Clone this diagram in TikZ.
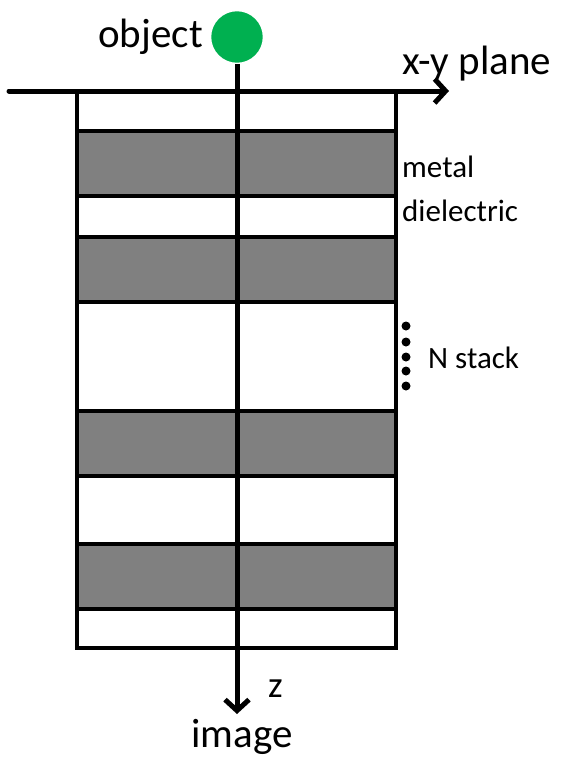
\documentclass[tikz,border=0pt]{standalone}
\usepackage{fontspec}
\setmainfont{Carlito}
\usetikzlibrary{arrows.meta}
\definecolor{objgreen}{HTML}{00B050}
\definecolor{metalgray}{HTML}{808080}
\tikzset{
  border/.style={line width=4.6pt, line join=miter},
  axisline/.style={line width=5pt, line cap=round, -{Straight Barb[length=11pt,width=24pt,line width=5pt]}},
  bigtxt/.style={inner sep=0pt, font=\fontsize{41}{41}\selectfont},
  smalltxt/.style={inner sep=0pt, font=\fontsize{31}{31}\selectfont},
  metal/.style={fill=metalgray},
  stackdot/.style={circle, fill=black, inner sep=0pt, minimum size=9pt}
}
\begin{document}
\begin{tikzpicture}[x=1pt,y=-1pt]
\useasboundingbox (0,0) rectangle (561,758);
% metal layers
\foreach \a/\b in {131/196,237/302,411/476,544/609}
  \fill[metal] (77,\a) rectangle (396,\b);
% stack outline
\draw[border] (77,91) -- (77,648) -- (396,648) -- (396,91);
\foreach \y in {131,196,237,302,411,476,544,609}
  \draw[border] (77,\y) -- (396,\y);
% x-y plane axis
\coordinate (xs) at (9,91);
\coordinate (xe) at (449,91);
\draw[axisline] (xs) -- (xe);
% object
\node[circle, fill=objgreen, draw=white, line width=1.5pt, minimum size=53pt, inner sep=0pt] (obj) at (237,37) {};
\coordinate (zend) at (237,714);
\draw[axisline, line cap=butt] (obj.south) -- (zend);
% dots
\foreach \y [count=\i] in {326,342,357,371,386}
  \node[stackdot] (d\i) at (406,\y) {};
% labels
\node[bigtxt, anchor=base east] (objlbl) at (203,47) {object};
\node[bigtxt, anchor=base west] (xylbl) at (402,74) {x-y plane};
\node[smalltxt, anchor=base west] (metallbl) at (402,177) {metal};
\node[smalltxt, anchor=base west] (diellbl) at (402,221) {dielectric};
\node[smalltxt, anchor=base west] (nlbl) at (428,368) {N stack};
\node[bigtxt, anchor=base west, font=\fontsize{37}{37}\selectfont] (zlbl) at (268,697) {z};
\node[bigtxt, anchor=base] (imglbl) at (242,747) {image};
\end{tikzpicture}
\end{document}
